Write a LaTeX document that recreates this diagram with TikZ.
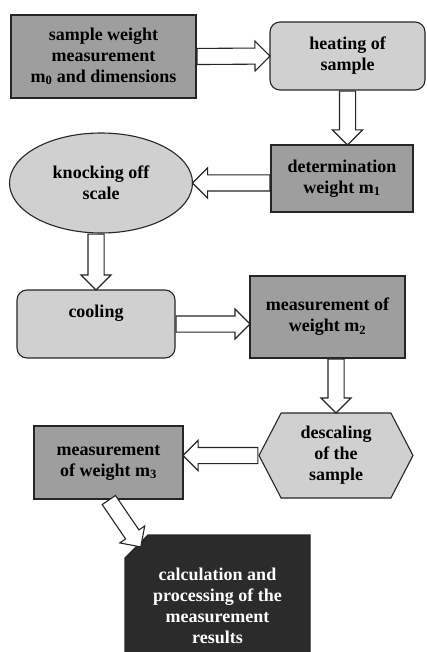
\documentclass[tikz,border=0pt]{standalone}
\usepackage{fontspec}
\setmainfont{Liberation Serif}
\usetikzlibrary{calc}
\usetikzlibrary{shapes.geometric, shapes.arrows, shapes.symbols, shapes.misc}
\definecolor{darkbox}{HTML}{9E9E9E}
\definecolor{lightbox}{HTML}{D0D0D0}
\definecolor{nightbox}{HTML}{2B2B2B}
\tikzset{
  stepbox/.style={draw=black!85, line width=1.1pt, align=center, inner sep=0pt,
    font=\fontsize{18}{21}\selectfont\bfseries},
  darkstep/.style={stepbox, rectangle, fill=darkbox},
  lightstep/.style={stepbox, rectangle, rounded corners=10pt, fill=lightbox},
  flow/.style={single arrow, draw=black!85, line width=1.1pt, fill=white,
    inner xsep=0pt, inner ysep=7.5pt, single arrow head extend=7pt}
}
\newcommand{\flowarrow}[2]{%
  \path let \p1=(#1), \p2=(#2), \n1={atan2(\y2-\y1,\x2-\x1)}, \n2={veclen(\x2-\x1,\y2-\y1)} in
    (\p1) node[flow, minimum height=\n2, rotate=\n1, anchor=tail] {};
}

\begin{document}
\begin{tikzpicture}[x=1pt, y=-1pt]
      \useasboundingbox (0,0) rectangle (426,652);

      \node[darkstep, minimum width=185pt, minimum height=83pt] (w0) at (103.5,56.5) {sample weight\\measurement\\m\textsubscript{0} and dimensions};
      \node[lightstep, minimum width=155pt, minimum height=68pt] (heat) at (347.5,56) {heating of\\sample};
      \node[darkstep, minimum width=142pt, minimum height=67pt] (det) at (342,178.5) {determination\\weight m\textsubscript{1}};
      \node[stepbox, ellipse, fill=lightbox, minimum width=183pt, minimum height=100pt] (knock) at (101,183) {knocking off\\scale};
      \node[lightstep, minimum width=158pt, minimum height=68pt, text depth=26pt] (cool) at (96,324) {cooling};
      \node[darkstep, minimum width=155pt, minimum height=82pt] (m2) at (327.5,317) {measurement of\\weight m\textsubscript{2}};
      \node[stepbox, signal, signal to=west and east, signal pointer angle=125, fill=lightbox, minimum width=154pt, minimum height=85pt] (hex) at (336,455.5) {descaling\\of the\\sample};
      \node[darkstep, minimum width=149pt, minimum height=73pt] (m3) at (108.5,462.5) {measurement\\of weight m\textsubscript{3}};
      \node[stepbox, chamfered rectangle, chamfered rectangle corners=north west, chamfered rectangle xsep=11pt, chamfered rectangle ysep=12pt, fill=nightbox, text=white, minimum width=185pt, minimum height=142pt] (res) at (217.5,606) {calculation and\\processing of the\\measurement\\results};

      \flowarrow{w0.east}{heat.west}
      \flowarrow{heat.south}{heat.south |- det.north}
      \flowarrow{det.west |- knock.east}{knock.east}
      \flowarrow{cool.north |- knock.south}{cool.north}
      \flowarrow{cool.east}{cool.east -| m2.west}
      \flowarrow{hex.north |- m2.south}{hex.north}
      \flowarrow{hex.west}{hex.west -| m3.east}
      \flowarrow{m3.south}{$(res.north -| res.west)+(16,12)$}
    \end{tikzpicture}
\end{document}
